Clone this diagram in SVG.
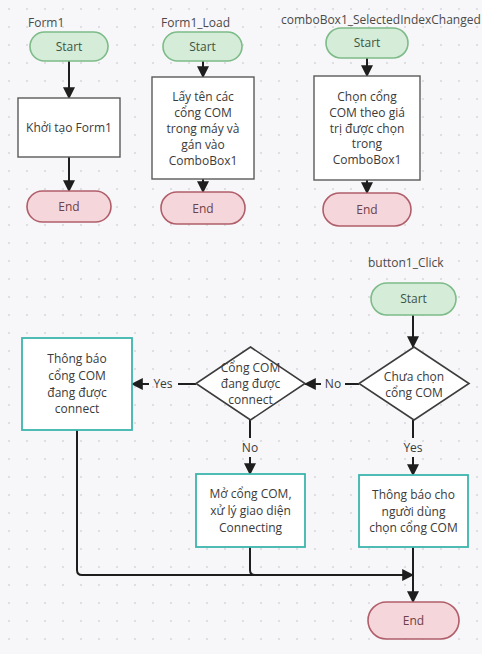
<svg xmlns="http://www.w3.org/2000/svg" width="482" height="654" viewBox="0 0 482 654">
<defs>
<pattern id="dots" x="0" y="0" width="18" height="18" patternUnits="userSpaceOnUse">
<circle cx="9" cy="9" r="0.9" fill="#d2d2da"/>
</pattern>
<marker id="arr" markerUnits="userSpaceOnUse" markerWidth="12" markerHeight="12" viewBox="0 0 10 10" refX="9" refY="5" orient="auto">
<path d="M0,0 L10,5 L0,10 z" fill="#1e1e1e"/>
</marker>
<style>
text{font-family:"Open Sans","Noto Sans","DejaVu Sans",sans-serif;font-size:12px;fill:#3a3a3a;text-anchor:middle}
.lbl{text-anchor:start;fill:#4a4a4a}
.start{fill:#d4ecd8;stroke:#7dbb88;stroke-width:1.6}
.end{fill:#f5d6da;stroke:#b05e6a;stroke-width:1.6}
.st{fill:#3d5443}
.et{fill:#6e4048}
.box{fill:#ffffff;stroke:#5a5a5a;stroke-width:1.4}
.tbox{fill:#ffffff;stroke:#3bb5ad;stroke-width:1.8}
.dia{fill:#ffffff;stroke:#3c3c3c;stroke-width:1.6}
.con path,.con line{fill:none;stroke:#1e1e1e;stroke-width:2}
.cl{fill:#3a3a3a}
</style>
</defs>
<rect width="482" height="654" fill="#f7f7f9"/>
<rect width="482" height="654" fill="url(#dots)"/>

<text class="lbl" x="28" y="27">Form1</text>
<text class="lbl" x="161" y="27">Form1_Load</text>
<text class="lbl" x="281" y="24">comboBox1_SelectedIndexChanged</text>
<text class="lbl" x="368" y="267">button1_Click</text>

<g class="con">
<line x1="69" y1="61" x2="69" y2="98" marker-end="url(#arr)"/>
<line x1="69" y1="157" x2="69" y2="191" marker-end="url(#arr)"/>
<line x1="203" y1="61" x2="203" y2="77" marker-end="url(#arr)"/>
<line x1="203" y1="179" x2="203" y2="192" marker-end="url(#arr)"/>
<line x1="367" y1="58" x2="367" y2="76" marker-end="url(#arr)"/>
<line x1="367" y1="180" x2="367" y2="193" marker-end="url(#arr)"/>
<line x1="413" y1="315" x2="413" y2="347" marker-end="url(#arr)"/>
<line x1="359" y1="384" x2="345" y2="384"/>
<line x1="321" y1="384" x2="305" y2="384" marker-end="url(#arr)"/>
<text class="cl" x="333" y="388">No</text>
<line x1="196" y1="384" x2="178" y2="384"/>
<line x1="149" y1="384" x2="132" y2="384" marker-end="url(#arr)"/>
<text class="cl" x="163" y="388">Yes</text>
<line x1="250" y1="420" x2="250" y2="438"/>
<line x1="250" y1="457" x2="250" y2="474" marker-end="url(#arr)"/>
<text class="cl" x="250" y="452">No</text>
<line x1="413" y1="420" x2="413" y2="438"/>
<line x1="413" y1="457" x2="413" y2="475" marker-end="url(#arr)"/>
<text class="cl" x="413" y="452">Yes</text>
<path d="M77,430 V570 Q77,575 82,575 H413" marker-end="url(#arr)"/>
<path d="M250,547 V570 Q250,575 255,575"/>
<line x1="413" y1="547" x2="413" y2="602" marker-end="url(#arr)"/>
</g>

<g id="form1-start"><rect class="start" x="30" y="32" width="78" height="29" rx="14.5"/><text class="st" x="69" y="50.5">Start</text></g>
<g id="form1-init"><rect class="box" x="18" y="98" width="102" height="59"/><text x="69" y="132">Khởi tạo Form1</text></g>
<g id="form1-end"><rect class="end" x="27" y="191" width="84" height="31" rx="15.5"/><text class="et" x="69" y="211">End</text></g>

<g id="load-start"><rect class="start" x="163" y="32" width="79" height="29" rx="14.5"/><text class="st" x="202.5" y="50.5">Start</text></g>
<g id="load-box"><rect class="box" x="152" y="77" width="102" height="102"/>
<text x="203" y="101">Lấy tên các</text><text x="203" y="117">cổng COM</text><text x="203" y="133">trong máy và</text><text x="203" y="149">gán vào</text><text x="203" y="164.5">ComboBox1</text></g>
<g id="load-end"><rect class="end" x="161" y="192" width="84" height="32" rx="16"/><text class="et" x="203" y="212.5">End</text></g>

<g id="combo-start"><rect class="start" x="326" y="28" width="82" height="30" rx="15"/><text class="st" x="367" y="47">Start</text></g>
<g id="combo-box"><rect class="box" x="314" y="76" width="106" height="104"/>
<text x="367" y="101">Chọn cổng</text><text x="367" y="117">COM theo giá</text><text x="367" y="132.5">trị được chọn</text><text x="367" y="148">trong</text><text x="367" y="164">ComboBox1</text></g>
<g id="combo-end"><rect class="end" x="323" y="193" width="88" height="33" rx="16.5"/><text class="et" x="367" y="214">End</text></g>

<g id="btn-start"><rect class="start" x="371" y="283" width="85" height="32" rx="16"/><text class="st" x="413.5" y="303">Start</text></g>
<g id="chk-chon"><polygon class="dia" points="414,347 469,383.5 414,420 359,383.5"/><text x="414" y="381">Chưa chọn</text><text x="414" y="397">cổng COM</text></g>
<g id="chk-connect"><polygon class="dia" points="250.5,347 305,383.5 250.5,420 196,383.5"/><text x="250.5" y="372">Cổng COM</text><text x="250.5" y="388">đang được</text><text x="250.5" y="404">connect</text></g>
<g id="msg-connected"><rect class="tbox" x="22" y="338" width="110" height="92"/>
<text x="77" y="363">Thông báo</text><text x="77" y="380">cổng COM</text><text x="77" y="397">đang được</text><text x="77" y="413">connect</text></g>
<g id="open-com"><rect class="tbox" x="196" y="474" width="109" height="73"/>
<text x="250.5" y="498">Mở cổng COM,</text><text x="250.5" y="515">xử lý giao diện</text><text x="250.5" y="532">Connecting</text></g>
<g id="msg-choose"><rect class="tbox" x="359" y="475" width="109" height="72"/>
<text x="413.5" y="499">Thông báo cho</text><text x="413.5" y="516">người dùng</text><text x="413.5" y="532">chọn cổng COM</text></g>
<g id="btn-end"><rect class="end" x="368" y="602" width="91" height="37" rx="18.5"/><text class="et" x="413.5" y="625">End</text></g>
</svg>
